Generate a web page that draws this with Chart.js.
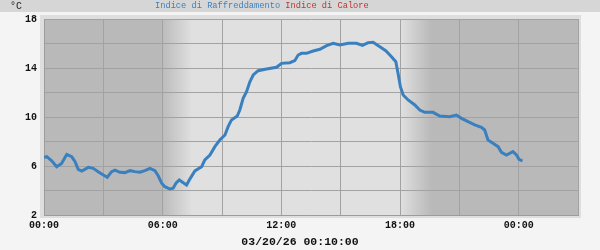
<!DOCTYPE html>
<html>
<head>
<meta charset="utf-8">
<script src="https://cdn.jsdelivr.net/npm/chart.js@4.4.1/dist/chart.umd.min.js"></script>
<style>
  html, body { margin: 0; padding: 0; background: #f4f4f4; }
  #wrap { width: 600px; height: 250px; }
</style>
</head>
<body>
<div id="wrap"><canvas id="chart" width="600" height="250"></canvas></div>
<script>
// Data (hours since 00:00, temperature °C)
const hours = [
  0.00, 0.14, 0.39, 0.64, 0.89, 1.15, 1.40, 1.57, 1.73, 1.91,
  2.24, 2.49, 2.74, 3.00, 3.20, 3.42, 3.59, 3.84, 4.09, 4.35,
  4.60, 4.85, 5.10, 5.36, 5.61, 5.78, 5.95, 6.11, 6.37, 6.53,
  6.67, 6.84, 7.04, 7.21, 7.38, 7.63, 7.97, 8.13, 8.39, 8.64,
  8.89, 9.15, 9.31, 9.48, 9.77, 9.90, 10.07, 10.24, 10.41, 10.58,
  10.83, 11.25, 11.76, 12.01, 12.43, 12.68, 12.85, 13.02, 13.27, 13.61,
  13.95, 14.29, 14.62, 14.96, 15.38, 15.80, 16.10, 16.39, 16.64, 16.98,
  17.28, 17.57, 17.79, 17.90, 18.02, 18.16, 18.41, 18.75, 19.00, 19.25,
  19.67, 20.01, 20.51, 20.85, 21.11, 21.44, 21.78, 22.12, 22.28, 22.45,
  22.70, 22.96, 23.13, 23.38, 23.71, 23.89, 24.02, 24.19
];
const coolingIndex = [
  6.7, 6.76, 6.43, 5.94, 6.2, 6.95, 6.76, 6.35, 5.73, 5.59,
  5.89, 5.81, 5.54, 5.27, 5.08, 5.54, 5.67, 5.49, 5.46, 5.62,
  5.54, 5.49, 5.62, 5.81, 5.62, 5.18, 4.59, 4.31, 4.12, 4.18,
  4.59, 4.86, 4.64, 4.45, 4.95, 5.6, 5.94, 6.49, 6.9, 7.58,
  8.12, 8.53, 9.21, 9.76, 10.08, 10.57, 11.52, 12.06, 12.88, 13.43,
  13.78, 13.92, 14.06, 14.38, 14.43, 14.6, 15.06, 15.2, 15.2, 15.39,
  15.53, 15.82, 16.02, 15.88, 16.02, 16.02, 15.85, 16.07, 16.1, 15.74,
  15.41, 14.92, 14.51, 13.57, 12.47, 11.8, 11.39, 10.98, 10.57, 10.38,
  10.38, 10.08, 10.03, 10.16, 9.89, 9.62, 9.35, 9.16, 8.94, 8.12,
  7.85, 7.58, 7.12, 6.9, 7.17, 6.9, 6.55, 6.41
];
const heatIndex = [];
const seriesNames = ['Indice di Raffreddamento', 'Indice di Calore'];
const seriesColors = ['#3a80bf', '#b93535'];
const yLabelValues = [2, 6, 10, 14, 18];
const xLabelHours = [0, 6, 12, 18, 24];
const unitLabel = '°C';
const dateLabel = '03/20/26 00:10:00';
const sunrise = 6.0;
const sunset = 18.0;

const MONO = '"Liberation Mono", "DejaVu Sans Mono", monospace';

function hhmm(h) {
  const hh = Math.floor(h % 24);
  return String(hh).padStart(2, '0') + ':00';
}

// background: page, header strip, frame and day/night shading
const backdrop = {
  id: 'backdrop',
  beforeDraw(chart) {
    const { ctx, chartArea: a, scales: { x } } = chart;
    ctx.save();
    ctx.fillStyle = '#f4f4f4';
    ctx.fillRect(0, 0, chart.width, chart.height);
    ctx.fillStyle = '#d6d6d6';
    ctx.fillRect(0, 0, chart.width, 12);
    ctx.fillStyle = '#dedede';
    ctx.fillRect(a.left - 4, a.top - 4, a.right - a.left + 7, a.bottom - a.top + 7);

    const w = a.right - a.left;
    const frac = h => Math.min(1, Math.max(0, (x.getPixelForValue(h) - a.left) / w));
    const dark = '#b9b9b9', light = '#e0e0e0';
    const g = ctx.createLinearGradient(a.left, 0, a.right, 0);
    g.addColorStop(0, dark);
    g.addColorStop(frac(sunrise - 0.1), dark);
    g.addColorStop(frac(sunrise + 1.5), light);
    g.addColorStop(frac(sunset), light);
    g.addColorStop(frac(sunset + 1.6), dark);
    g.addColorStop(1, dark);
    ctx.fillStyle = g;
    ctx.fillRect(a.left, a.top, w, a.bottom - a.top);
    ctx.restore();
  },
  afterDraw(chart) {
    const ctx = chart.ctx;
    ctx.save();
    ctx.textBaseline = 'middle';
    ctx.fillStyle = '#222';
    ctx.font = '10px ' + MONO;
    ctx.fillText(unitLabel, 10, 6);
    // legend text, coloured per series
    ctx.font = '8.7px ' + MONO;
    let lx = 155;
    chart.data.datasets.forEach(ds => {
      ctx.fillStyle = ds.borderColor;
      ctx.fillText(ds.label, lx, 6);
      lx += ctx.measureText(ds.label + ' ').width;
    });
    // date stamp under the axis, centred on the page
    ctx.font = 'bold 11.5px ' + MONO;
    ctx.fillStyle = '#111';
    ctx.textAlign = 'center';
    ctx.fillText(dateLabel, chart.width / 2, 242);
    ctx.restore();
  }
};

new Chart(document.getElementById('chart'), {
  type: 'line',
  data: {
    datasets: [
      {
        label: seriesNames[0],
        data: hours.map((h, i) => ({ x: h, y: coolingIndex[i] })),
        borderColor: seriesColors[0],
        borderWidth: 3,
        pointRadius: 0,
        tension: 0
      },
      {
        label: seriesNames[1],
        data: heatIndex,
        borderColor: seriesColors[1],
        borderWidth: 3,
        pointRadius: 0
      }
    ]
  },
  options: {
    responsive: false,
    animation: false,
    devicePixelRatio: 1,
    layout: { padding: { top: 19, right: 22, left: 0, bottom: 0 } },
    plugins: {
      legend: { display: false },
      tooltip: { enabled: false }
    },
    scales: {
      x: {
        type: 'linear',
        min: 0,
        max: 27,
        afterFit(s) { s.height = 35; },
        border: { display: true, color: '#9c9c9c' },
        grid: { color: '#a2a2a2', drawTicks: false },
        ticks: {
          stepSize: 3,
          padding: 4,
          maxRotation: 0,
          autoSkip: false,
          color: '#111',
          font: { family: MONO, size: 10, weight: 'bold' },
          callback: v => xLabelHours.includes(v) ? hhmm(v) : ''
        }
      },
      y: {
        min: 2,
        max: 18,
        afterFit(s) { s.width = 44; },
        border: { display: true, color: '#9c9c9c' },
        grid: { color: '#a2a2a2', drawTicks: false },
        ticks: {
          stepSize: 2,
          padding: 7,
          color: '#111',
          font: { family: MONO, size: 10, weight: 'bold' },
          callback: v => yLabelValues.includes(v) ? String(v) : ''
        }
      }
    }
  },
  plugins: [backdrop]
});
</script>
</body>
</html>
